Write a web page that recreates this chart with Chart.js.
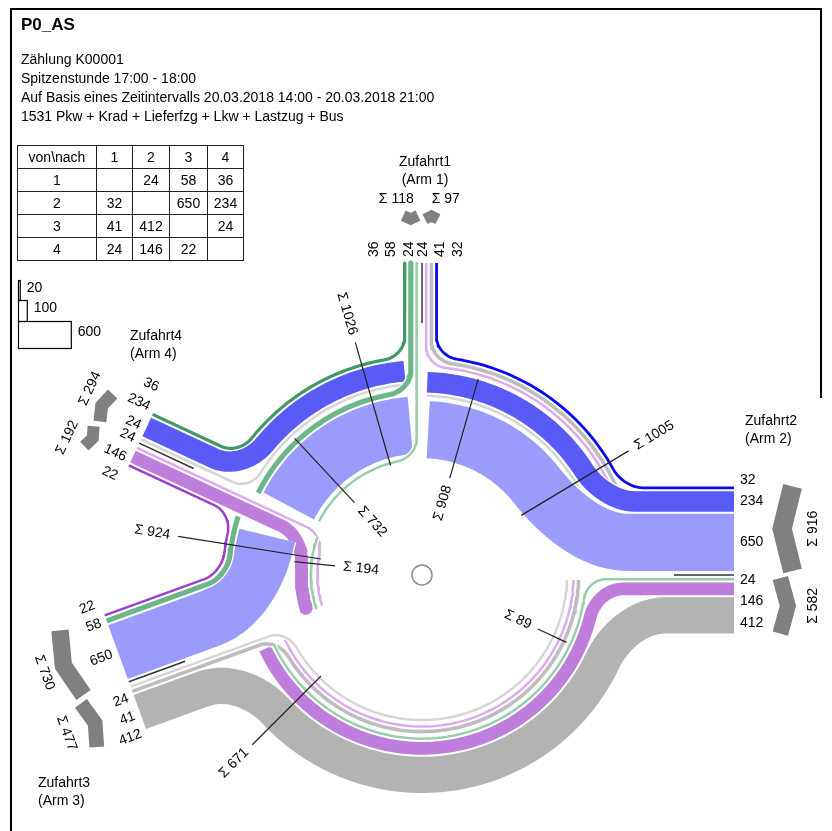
<!DOCTYPE html>
<html>
<head>
<meta charset="utf-8">
<title>P0_AS</title>
<script src="https://cdn.jsdelivr.net/npm/chart.js@4.4.1/dist/chart.umd.min.js"></script>
<style>
  html, body { margin: 0; padding: 0; background: #fff; }
  #page { position: relative; width: 832px; height: 831px; overflow: hidden;
          font-family: "Liberation Sans", Arial, sans-serif; color: #000; }
  #knot { position: absolute; left: 0; top: 0; }
  .rule { position: absolute; background: #000; }
  .line { position: absolute; left: 21px; font-size: 14px; line-height: 19px; white-space: nowrap; }
  #title { top: 15px; font-size: 17px; font-weight: bold; }
  #matrix { position: absolute; left: 17px; top: 145px; border-collapse: collapse;
            table-layout: fixed; font-size: 14px; }
  #matrix td { border: 1.5px solid #222; padding: 0; text-align: center; height: 22px; line-height: 14px; }
</style>
</head>
<body>
<div id="page">
  <canvas id="knot" width="832" height="831"></canvas>
  <div class="rule" style="left:10px;top:8px;width:2px;height:823px"></div>
  <div class="rule" style="left:10px;top:8px;width:812px;height:2px"></div>
  <div class="rule" style="left:820px;top:8px;width:2px;height:390px"></div>
  <div class="line" id="title"></div>
  <table id="matrix">
    <colgroup><col style="width:79px"><col style="width:36px"><col style="width:37px"><col style="width:38px"><col style="width:36px"></colgroup>
    <tbody id="matrixBody"></tbody>
  </table>
</div>
<script>
// ---- values ----
const armIds = [1, 2, 3, 4];
const armNames = ["Zufahrt1", "Zufahrt2", "Zufahrt3", "Zufahrt4"];
const armSubNames = ["(Arm 1)", "(Arm 2)", "(Arm 3)", "(Arm 4)"];
// von\nach matrix, one row per origin arm (columns = destination arm 1..4)
const fromArm1 = [null, 24, 58, 36];
const fromArm2 = [32, null, 650, 234];
const fromArm3 = [41, 412, null, 24];
const fromArm4 = [24, 146, 22, null];
const scaleSteps = [20, 100, 600];
const sheetTitle = "P0_AS";
const sheetLines = [
  "Zählung K00001",
  "Spitzenstunde 17:00 - 18:00",
  "Auf Basis eines Zeitintervalls 20.03.2018 14:00 - 20.03.2018 21:00",
  "1531 Pkw + Krad + Lieferfzg + Lkw + Lastzug + Bus"
];
const cornerLabel = "von\\nach";

// ---- layout / style ----
const K = 0.088;              // px per vehicle
const GAP = 2, GROUP_GAP = 4, MIN_W = 2.5;
const ARM_ORDER = [2, 1, 4, 3]; // counter-clockwise
const ARM_ANGLE = { 1: 90, 2: 0, 3: 200, 4: 155 };
const ARM_LEN = 312;
const RING_OUT = { 2: 220, 1: 220, 4: 200, 3: 218 }; // outer radius of the section after an arm
const LEAD_OUT = { 2: 241, 1: 242, 4: 247, 3: 240 };
const T_END = 5;
const CHEV_S = 350;
// lateral label placement per arm (shift > 0 moves towards the entry side)
const LABEL_CFG = {
  1: { shift: 6, gap: 17.5, min: 7 },
  2: { shift: 0, gap: 21.5, min: 5 },
  3: { shift: 0, gap: 19, min: 15 },
  4: { shift: -9, gap: 21, min: 7 }
};
const SEC_ANGLES = { 2: [31, 74], 1: [106, 133], 4: [171, 174], 3: [225, 335] };
const NAME_POS = { 1: [425, 162, "center"], 2: [745, 421, "left"], 3: [38, 783, "left"], 4: [130, 336, "left"] };
const FONT = '14px "Liberation Sans", Arial, sans-serif';
const FLOW_COLORS = {
  "1-2": "#97cfaa", "1-3": "#6cb68a", "1-4": "#3f9966",
  "2-1": "#0a0af0", "2-3": "#9b9bfb", "2-4": "#5a5af6",
  "3-1": "#bdbdbd", "3-2": "#b3b3b3", "3-4": "#d6d6d6",
  "4-1": "#dcaaee", "4-2": "#bf7edb", "4-3": "#9b3fd0"
};

// ---- header + table ----
document.getElementById("title").textContent = sheetTitle;
const page = document.getElementById("page");
sheetLines.forEach((t, i) => {
  const d = document.createElement("div");
  d.className = "line";
  d.style.top = (50 + 19 * i) + "px";
  d.textContent = t;
  page.appendChild(d);
});
const odRows = { 1: fromArm1, 2: fromArm2, 3: fromArm3, 4: fromArm4 };
let rowsHtml = "<tr><td>" + cornerLabel + "</td>" + armIds.map(a => "<td>" + a + "</td>").join("") + "</tr>";
armIds.forEach(a => {
  rowsHtml += "<tr><td>" + a + "</td>" + odRows[a].map(v => "<td>" + (v == null ? "" : v) + "</td>").join("") + "</tr>";
});
document.getElementById("matrixBody").innerHTML = rowsHtml;

// ---- geometry ----
const D2R = Math.PI / 180;
const idx = a => ARM_ORDER.indexOf(a);
const nextArm = a => ARM_ORDER[(idx(a) + 1) % 4];
const prevArm = a => ARM_ORDER[(idx(a) + 3) % 4];
const steps = (a, b) => (idx(b) - idx(a) + 4) % 4;
const bandW = v => Math.max(MIN_W, v * K);

function armPt(X, s, lat) {
  const t = ARM_ANGLE[X] * D2R;
  return { x: s * Math.cos(t) - lat * Math.sin(t), y: s * Math.sin(t) + lat * Math.cos(t) };
}
function arcPt(r, deg) {
  return { x: r * Math.cos(deg * D2R), y: r * Math.sin(deg * D2R) };
}
function cubic(p0, p1, p2, p3, n) {
  const out = [];
  for (let i = 1; i <= n; i++) {
    const t = i / n, m = 1 - t;
    out.push({
      x: m * m * m * p0.x + 3 * m * m * t * p1.x + 3 * m * t * t * p2.x + t * t * t * p3.x,
      y: m * m * m * p0.y + 3 * m * m * t * p1.y + 3 * m * t * t * p2.y + t * t * t * p3.y
    });
  }
  return out;
}
function normRot(a) {
  let r = ((a + 90) % 360 + 360) % 360 - 90;
  if (r >= 90) r -= 180;
  return r;
}

const flows = [];
armIds.forEach(a => armIds.forEach(b => {
  const v = odRows[a][b - 1];
  if (a !== b && v) flows.push({ a, b, v, w: bandW(v), color: FLOW_COLORS[a + "-" + b], rad: {} });
}));

// stack the flows of each ring section, next exit outermost
const sections = {};
ARM_ORDER.forEach(X => {
  const list = flows.filter(f => steps(f.a, X) < steps(f.a, f.b))
    .map(f => ({ f, k: steps(f.a, X), left: steps(f.a, f.b) - steps(f.a, X) }))
    .sort((p, q) => p.left - q.left || p.k - q.k);
  let r = RING_OUT[X], prev = null, innerEdge = null;
  list.forEach(it => {
    if (prev !== null) r -= it.left !== prev ? GROUP_GAP : GAP;
    if (it.left > 1 && innerEdge === null) innerEdge = r;
    it.f.rad[X] = r - it.f.w / 2;
    r -= it.f.w;
    prev = it.left;
  });
  const total = list.reduce((s, it) => s + it.f.v, 0);
  const through = list.filter(it => it.left > 1).reduce((s, it) => s + it.f.v, 0);
  sections[X] = { list, inner: r, innerEdge, total, through };
});

// lanes in the arms, deepest flow next to the median
ARM_ORDER.forEach(X => {
  const ins = sections[X].list.filter(it => it.f.a === X).map(it => it.f).reverse();
  let w = 4;
  ins.forEach(f => { f.wIn = w + f.w / 2; w += f.w + GAP; });
  const outs = sections[prevArm(X)].list.filter(it => it.f.b === X).map(it => it.f).reverse();
  w = 3;
  outs.forEach(f => { f.wOut = w + f.w / 2; w += f.w + GAP; });
});

function startOffset(f, X) {
  let t = T_END;
  flows.forEach(e => {
    if (e.a === X && e.rad[X] < f.rad[X]) t = Math.max(t, e.wIn + e.w / 2 + 3);
  });
  return t;
}

function flowSegments(f) {
  const n = steps(f.a, f.b);
  const base = ARM_ANGLE[f.a];
  const unwrap = Y => base + ((ARM_ANGLE[Y] - base + 360) % 360);
  const segs = [];
  let X = f.a;
  for (let i = 0; i < n; i++) {
    const Y = nextArm(X);
    const r = f.rad[X];
    const th0 = unwrap(X), th1 = unwrap(Y);
    const first = i === 0, last = i === n - 1;
    const angIn = first ? th0 + Math.asin(f.wIn / r) / D2R
                        : th0 + Math.asin(startOffset(f, X) / (r - f.w / 2)) / D2R;
    const angOut = last ? th1 - Math.asin(f.wOut / r) / D2R
                        : th1 - Math.asin(T_END / (r - f.w / 2)) / D2R;
    const d = 18 + 0.8 * f.w;
    const avail = (angOut - angIn) * D2R * r;
    const dIn = first ? d : 0, dOut = last ? d : 0;
    const sc = dIn + dOut > 0.9 * avail ? 0.9 * avail / (dIn + dOut) : 1;
    const di = dIn * sc, dO = dOut * sc;
    const a0 = angIn + di / r / D2R, a1 = angOut - dO / r / D2R;
    const pts = [];
    if (first) {
      const sq = Math.sqrt(r * r - f.wIn * f.wIn);
      const t = ARM_ANGLE[X] * D2R;
      const A = armPt(X, sq + di, f.wIn), B = arcPt(r, a0);
      const c = 0.55 * di;
      pts.push(armPt(X, ARM_LEN, f.wIn), A);
      pts.push(...cubic(A, { x: A.x - Math.cos(t) * c, y: A.y - Math.sin(t) * c },
        { x: B.x + Math.sin(a0 * D2R) * c, y: B.y - Math.cos(a0 * D2R) * c }, B, 16));
    }
    const na = Math.max(2, Math.ceil((a1 - a0) / 1.5));
    for (let j = 0; j <= na; j++) pts.push(arcPt(r, a0 + (a1 - a0) * j / na));
    if (last) {
      const sq = Math.sqrt(r * r - f.wOut * f.wOut);
      const t = ARM_ANGLE[Y] * D2R;
      const A = arcPt(r, a1), B = armPt(Y, sq + dO, -f.wOut);
      const c = 0.55 * dO;
      pts.push(...cubic(A, { x: A.x - Math.sin(a1 * D2R) * c, y: A.y + Math.cos(a1 * D2R) * c },
        { x: B.x - Math.cos(t) * c, y: B.y - Math.sin(t) * c }, B, 16));
      pts.push(armPt(Y, ARM_LEN, -f.wOut));
    }
    segs.push(pts);
    X = Y;
  }
  return segs;
}

function lineSet(pts, color, width, order, join) {
  return {
    data: pts, showLine: true, borderColor: color, borderWidth: width,
    pointRadius: 0, fill: false, tension: 0, order,
    borderCapStyle: "butt", borderJoinStyle: join || "round"
  };
}

const datasets = [];
let ord = 10;
flows.forEach(f => {
  flowSegments(f).forEach(pts => {
    datasets.push(lineSet(pts, f.color, f.w, ord));
    datasets.push(lineSet(pts, "#ffffff", f.w + 2.5, ord + 1));
    ord += 2;
  });
});

// arm medians + direction chevrons
const chevrons = {};
ARM_ORDER.forEach(X => {
  datasets.push(lineSet([armPt(X, ARM_LEN - 60, 0), armPt(X, ARM_LEN, 0)], "#333333", 1.5, 1));
  const ins = flows.filter(f => f.a === X), outs = flows.filter(f => f.b === X);
  const eSpan = [4, Math.max(...ins.map(f => f.wIn + f.w / 2))];
  const xSpan = [3, Math.max(...outs.map(f => f.wOut + f.w / 2))];
  let reach = 0;
  [[eSpan, 1], [xSpan, -1]].forEach(([sp, side]) => {
    const span = sp[1] - sp[0], wm = (sp[0] + sp[1]) / 2;
    const d = 2 + 0.1 * span, t = 10 + 0.12 * span;
    reach = Math.max(reach, d + t);
    const pts = side > 0
      ? [armPt(X, CHEV_S + d + t / 2, sp[0]), armPt(X, CHEV_S + t / 2, wm), armPt(X, CHEV_S + d + t / 2, sp[1])]
      : [armPt(X, CHEV_S + t / 2, -sp[0]), armPt(X, CHEV_S + d + t / 2, -wm), armPt(X, CHEV_S + t / 2, -sp[1])];
    datasets.push(lineSet(pts, "#808080", t * 0.95, 1, "miter"));
  });
  chevrons[X] = { eSpan, xSpan, sText: CHEV_S + reach + 11,
    sumIn: ins.reduce((s, f) => s + f.v, 0), sumOut: outs.reduce((s, f) => s + f.v, 0) };
});

// section leaders
ARM_ORDER.forEach(X => {
  const sec = sections[X], [aT, aI] = SEC_ANGLES[X];
  datasets.push(lineSet([arcPt(sec.inner - 1, aT), arcPt(LEAD_OUT[X], aT)], "#222222", 1.2, 0));
  datasets.push(lineSet([arcPt(sec.innerEdge + 1, aI), arcPt(sec.inner - 16, aI)], "#222222", 1.2, 0));
});

// centre island
datasets.push({
  data: [{ x: 0, y: 0 }], showLine: false, pointRadius: 10, pointBackgroundColor: "#ffffff",
  pointBorderColor: "#8c8c8c", pointBorderWidth: 1.5, order: 0
});

const labelPlugin = {
  id: "knotLabels",
  afterDatasetsDraw(chart) {
    const ctx = chart.ctx, sx = chart.scales.x, sy = chart.scales.y;
    ctx.save();
    ctx.font = FONT;
    ctx.fillStyle = "#000";
    const text = (str, p, rot, align) => {
      ctx.save();
      ctx.translate(sx.getPixelForValue(p.x), sy.getPixelForValue(p.y));
      ctx.rotate(rot * D2R);
      ctx.textAlign = align || "center";
      ctx.textBaseline = "middle";
      ctx.fillText(str, 0, 0);
      ctx.restore();
    };

    ARM_ORDER.forEach(X => {
      const th = ARM_ANGLE[X], cfg = LABEL_CFG[X];
      const outward = Math.cos(th * D2R) > -0.01;
      const rot = normRot(-th), align = outward ? "left" : "right";
      const ins = flows.filter(f => f.a === X).sort((p, q) => p.wIn - q.wIn);
      const outs = flows.filter(f => f.b === X).sort((p, q) => p.wOut - q.wOut);
      let last = 0;
      ins.forEach((f, i) => {
        const lat = Math.max(f.wIn, i ? last + cfg.gap : cfg.min);
        last = lat;
        text(String(f.v), armPt(X, ARM_LEN + 6, lat + cfg.shift), rot, align);
      });
      outs.forEach((f, i) => {
        const lat = Math.max(f.wOut, i ? last + cfg.gap : cfg.min);
        last = lat;
        text(String(f.v), armPt(X, ARM_LEN + 6, -lat + cfg.shift), rot, align);
      });

      // arm sums beside the chevrons
      const ch = chevrons[X];
      const sRot = normRot(-(th + 90));
      const tIn = "\u03A3 " + ch.sumIn, tOut = "\u03A3 " + ch.sumOut;
      let cIn = (ch.eSpan[0] + ch.eSpan[1]) / 2, cOut = -(ch.xSpan[0] + ch.xSpan[1]) / 2;
      const need = (ctx.measureText(tIn).width + ctx.measureText(tOut).width) / 2 + 18;
      if (cIn - cOut < need) {
        const mid = (cIn + cOut) / 2;
        cIn = mid + need / 2; cOut = mid - need / 2;
      }
      text(tIn, armPt(X, ch.sText, cIn), sRot);
      text(tOut, armPt(X, ch.sText, cOut), sRot);

      const [nx, ny, nAlign] = NAME_POS[X];
      ctx.textAlign = nAlign;
      ctx.textBaseline = "middle";
      ctx.fillText(armNames[X - 1], nx, ny);
      ctx.fillText(armSubNames[X - 1], nx, ny + 18);
    });

    ARM_ORDER.forEach(X => {
      const sec = sections[X], [aT, aI] = SEC_ANGLES[X];
      const tT = "\u03A3 " + sec.total, tI = "\u03A3 " + sec.through;
      const wT = ctx.measureText(tT).width, wI = ctx.measureText(tI).width;
      text(tT, arcPt(LEAD_OUT[X] + 8 + wT / 2, aT), normRot(-aT));
      text(tI, arcPt(sec.inner - 24 - wI / 2, aI), normRot(-aI));
    });

    // width scale
    const tops = [280, 300, 321], hs = [20, 21, 27];
    ctx.strokeStyle = "#000";
    ctx.lineWidth = 1.2;
    ctx.textAlign = "left";
    ctx.textBaseline = "middle";
    scaleSteps.forEach((v, i) => {
      const w = v * K;
      ctx.strokeRect(18.5, tops[i] + 0.5, w, hs[i]);
      ctx.fillText(String(v), 18 + w + 7, tops[i] + hs[i] / 2 - 2);
    });
    ctx.restore();
  }
};

new Chart(document.getElementById("knot"), {
  type: "scatter",
  data: { datasets },
  options: {
    responsive: false,
    animation: false,
    events: [],
    layout: { padding: 0, autoPadding: false },
    scales: {
      x: { type: "linear", min: -422, max: 410, display: false },
      y: { type: "linear", min: -256, max: 575, display: false }
    },
    plugins: { legend: { display: false }, tooltip: { enabled: false } }
  },
  plugins: [labelPlugin]
});
</script>
</body>
</html>
